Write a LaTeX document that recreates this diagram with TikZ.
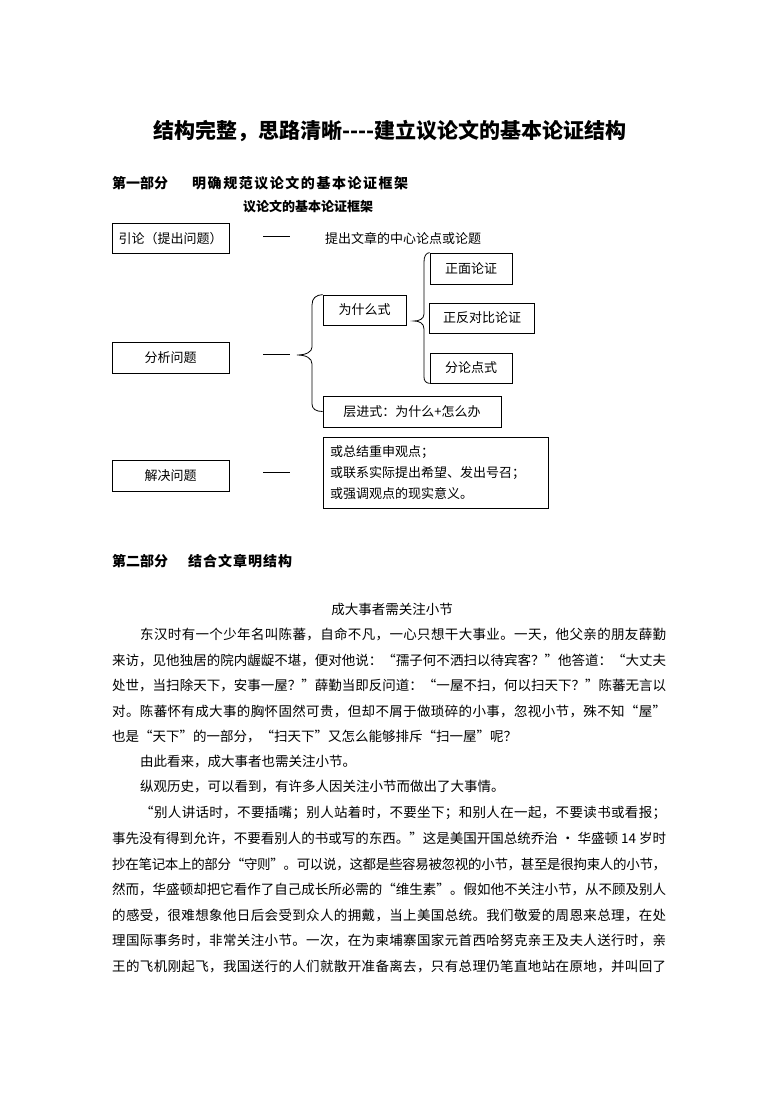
\documentclass[tikz,border=0pt]{standalone}
\usepackage{fontspec}
\setmainfont{Noto Sans CJK SC}
\makeatletter
\def\spr@#1#2{#1\ifx#2\relax\else\hskip 0pt plus 1fil minus 1pt\expandafter\spr@\expandafter#2\fi}
\newcommand\jline[2]{\hbox to #1{\spr@#2\relax}}
\makeatother
\newcommand\dashrule{\rule[0.35em]{27pt}{0.6pt}}
\begin{document}
\begin{tikzpicture}[x=1pt,y=-1pt,
  box/.style={draw, line width=0.8pt, inner sep=0pt, font=\fontsize{13}{16}\selectfont},
  plain/.style={inner sep=0pt, font=\fontsize{13}{16}\selectfont},
  body/.style={anchor=west, inner sep=0pt, font=\fontsize{13.5}{16}\selectfont},
  head/.style={anchor=west, inner sep=0pt, font=\bfseries\fontsize{14}{17}\selectfont},
  brace/.style={draw, line width=0.8pt}]
\useasboundingbox (0,0) rectangle (780,1103);

% title and headers
\node[inner sep=0pt, font=\bfseries\fontsize{21}{24}\selectfont] (title) at (390,131) {结构完整，思路清晰-{}-{}-{}-建立议论文的基本论证结构};
\node[head] (h1a) at (112,183) {第一部分};
\node[head] (h1b) at (192,183) {\jline{216pt}{明确规范议论文的基本论证框架}};
\node[inner sep=0pt, font=\bfseries\fontsize{13}{16}\selectfont] (sub) at (308,207) {议论文的基本论证框架};

% framework diagram
\node[box, minimum width=117pt, minimum height=30pt] (yl) at (170.5,238.5) {引论（提出问题）};
\node[plain] (d1) at (276.5,238.5) {\dashrule};
\node[plain, anchor=west] (yl2) at (325,238.5) {提出文章的中心论点或论题};

\node[box, minimum width=117pt, minimum height=31pt] (fx) at (170.5,357.5) {分析问题};
\node[plain] (d2) at (276.5,357) {\dashrule};

\node[box, minimum width=83pt, minimum height=30pt] (why) at (364.5,310) {为什么式};
\node[box, minimum width=82pt, minimum height=31pt] (zm) at (471,268.5) {正面论证};
\node[box, minimum width=105pt, minimum height=30pt] (zf) at (482,318) {正反对比论证};
\node[box, minimum width=82pt, minimum height=30pt] (fl) at (471,368) {分论点式};
\node[box, minimum width=178pt, minimum height=31pt] (cj) at (412,411.5) {层进式：为什么+怎么办};

\node[box, minimum width=117pt, minimum height=31pt] (jj) at (170.5,475.5) {解决问题};
\node[plain] (d3) at (276.5,475) {\dashrule};
\node[box, minimum width=225pt, minimum height=71pt, align=left, text width=211pt,
      font=\fontsize{13}{21}\selectfont] (jjb) at (435.5,472.5)
      {或总结重申观点；\\或联系实际提出希望、发出号召；\\或强调观点的现实意义。};

% big brace
\path[brace] (why.north west) .. controls (316,295) and (312,298) .. (312,305)
  -- (312,347) .. controls (312,352) and (306,355) .. (297,355)
  .. controls (306,355) and (312,358) .. (312,364)
  -- (312,404) .. controls (312,409) and (316,411.5) .. (cj.west);
% small brace
\path[brace] (zm.north west) .. controls (426,253) and (424,256) .. (424,262)
  -- (424,314) .. controls (424,319) and (419,321) .. (414,321)
  .. controls (419,321) and (424,323) .. (424,329)
  -- (424,377) .. controls (424,381) and (426,383) .. (fl.south west);

% part two
\node[head] (h2a) at (112,561) {第二部分};
\node[head] (h2b) at (188,561) {\jline{104pt}{结合文章明结构}};
\node[inner sep=0pt, font=\fontsize{13.5}{16}\selectfont] (art) at (392,609) {成大事者需关注小节};

\node[body] (l1) at (140,634) {\jline{526pt}{东汉时有一个少年名叫陈蕃，自命不凡，一心只想干大事业。一天，他父亲的朋友薛勤}};
\node[body] (l2) at (112,660) {\jline{554pt}{来访，见他独居的院内龌龊不堪，便对他说：“孺子何不洒扫以待宾客？”他答道：“大丈夫}};
\node[body] (l3) at (112,685) {\jline{554pt}{处世，当扫除天下，安事一屋？”薛勤当即反问道：“一屋不扫，何以扫天下？”陈蕃无言以}};
\node[body] (l4) at (112,711) {\jline{554pt}{对。陈蕃怀有成大事的胸怀固然可贵，但却不屑于做琐碎的小事，忽视小节，殊不知“屋”}};
\node[body] (l5) at (112,736) {也是“天下”的一部分，“扫天下”又怎么能够排斥“扫一屋”呢？};
\node[body] (l6) at (140,762) {由此看来，成大事者也需关注小节。};
\node[body] (l7) at (140,787) {纵观历史，可以看到，有许多人因关注小节而做出了大事情。};
\node[body] (l8) at (140,813) {\jline{526pt}{“别人讲话时，不要插嘴；别人站着时，不要坐下；和别人在一起，不要读书或看报；}};
\node[body] (l9) at (112,838) {\jline{554pt}{事先没有得到允许，不要看别人的书或写的东西。”这是美国开国总统乔治~•~华盛顿~14~岁时}};
\node[body] (l10) at (112,864) {\jline{554pt}{抄在笔记本上的部分“守则”。可以说，这都是些容易被忽视的小节，甚至是很拘束人的小节，}};
\node[body] (l11) at (112,889) {\jline{554pt}{然而，华盛顿却把它看作了自己成长所必需的“维生素”。假如他不关注小节，从不顾及别人}};
\node[body] (l12) at (112,915) {\jline{554pt}{的感受，很难想象他日后会受到众人的拥戴，当上美国总统。我们敬爱的周恩来总理，在处}};
\node[body] (l13) at (112,940) {\jline{554pt}{理国际事务时，非常关注小节。一次，在为柬埔寨国家元首西哈努克亲王及夫人送行时，亲}};
\node[body] (l14) at (112,966) {\jline{554pt}{王的飞机刚起飞，我国送行的人们就散开准备离去，只有总理仍笔直地站在原地，并叫回了}};
\end{tikzpicture}
\end{document}
